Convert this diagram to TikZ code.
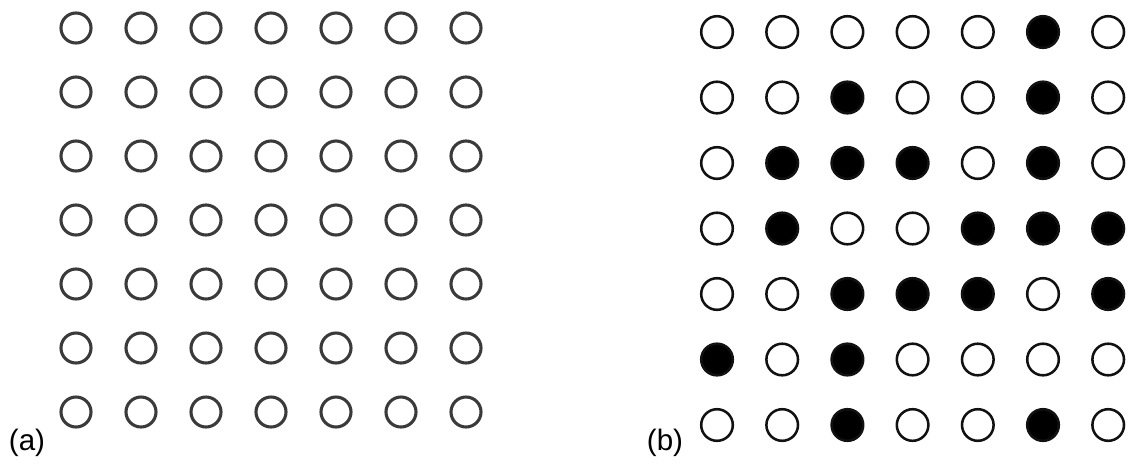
\documentclass[tikz,border=0pt]{standalone}
\usepackage{fontspec}
\setmainfont{Liberation Sans}
\definecolor{ringa}{HTML}{3A3A3A}
\definecolor{ringb}{HTML}{111111}
\tikzset{
  pt a/.style={circle,draw=ringa,line width=2.2pt,minimum size=0.75cm,inner sep=0pt},
  pt o/.style={circle,draw=ringb,line width=1.8pt,minimum size=0.79cm,inner sep=0pt},
  pt x/.style={pt o,fill=black},
  lbl/.style={inner sep=0pt,font=\fontsize{21}{25}\selectfont}
}
\begin{document}
\begin{tikzpicture}[x=0.025cm,y=-0.025cm]
\useasboundingbox (0,0) rectangle (1133,463);
% (a) plain lattice
\foreach \r in {1,...,7}
  \foreach \c in {1,...,7}
    \node[pt a] (a-\r-\c) at ({76+65*(\c-1)},{28+64*(\r-1)}) {};
% (b) x = filled site
\foreach \r/\pat in {1/{o,o,o,o,o,x,o},2/{o,o,x,o,o,x,o},3/{o,x,x,x,o,x,o},
    4/{o,x,o,o,x,x,x},5/{o,o,x,x,x,o,x},6/{x,o,x,o,o,o,o},7/{o,o,x,o,o,x,o}}
  \foreach \s [count=\c] in \pat
    \node[pt \s] (b-\r-\c) at ({717+65.2*(\c-1)},{32+65.5*(\r-1)}) {};
\node[lbl] (lbl-a) at (27,443) {(a)};
\node[lbl] (lbl-b) at (665,443) {(b)};
\end{tikzpicture}
\end{document}
